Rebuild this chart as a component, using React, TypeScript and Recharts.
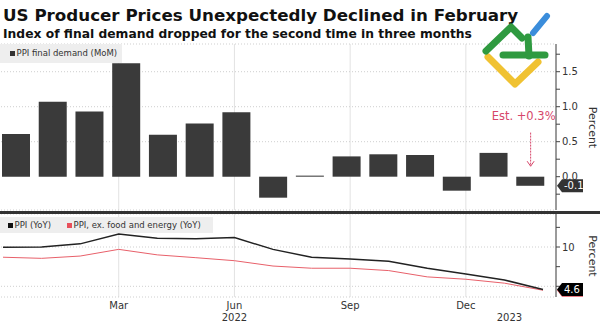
import React from 'react';
import { BarChart, Bar, XAxis, YAxis, CartesianGrid, ReferenceLine, ReferenceDot, LineChart, Line } from 'recharts';

const months = ['Dec 21', 'Jan 22', 'Feb 22', 'Mar 22', 'Apr 22', 'May 22', 'Jun 22', 'Jul 22', 'Aug 22', 'Sep 22', 'Oct 22', 'Nov 22', 'Dec 22', 'Jan 23', 'Feb 23'];
const momValues = [0.61, 1.07, 0.93, 1.62, 0.6, 0.76, 0.92, -0.3, 0.015, 0.29, 0.32, 0.31, -0.2, 0.34, -0.13];
const ppiYoY = [9.96, 10.0, 10.4, 11.65, 11.1, 11.05, 11.2, 9.7, 8.7, 8.47, 8.2, 7.3, 6.57, 5.8, 4.6];
const coreYoY = [8.7, 8.56, 8.85, 9.7, 9.0, 8.64, 8.26, 7.58, 7.3, 7.3, 7.0, 6.2, 5.9, 5.4, 4.5];

const monthTicks = [3, 6, 9, 12, 13];
const monthTickLabels = ['Mar', 'Jun', 'Sep', 'Dec', ''];
const yearTickLabels = ['', '2022', '', '', '2023'];
const gridMonths = [3, 6, 9, 12];
const momTicks = [-0.25, 0, 0.25, 0.5, 0.75, 1, 1.25, 1.5, 1.75];
const momLabelled = [0, 0.5, 1, 1.5];
const momGrid = [0.5, 1, 1.5];
const yoyTicks = [5, 7.5, 10, 12.5];
const yoyLabelled = [10];
const yoyGrid = [5, 10];
const estimateText = 'Est. +0.3%';
const estimateArrowTop = 0.63;
const estimateArrowTip = 0.15;
const estimateTextLevel = 0.87;

const momDomain: [number, number] = [-0.476, 1.896];
const yoyDomain: [number, number] = [3.64, 14.2];

const FONT = '"DejaVu Sans", Verdana, sans-serif';
const barData = months.map((m, i) => ({ m, i, v: momValues[i] }));
const lineData = months.map((m, i) => ({ m, i, ppi: ppiYoY[i], core: coreYoY[i] }));

const lastMom = momValues[momValues.length - 1];
const lastPpi = ppiYoY[ppiYoY.length - 1];
const lastCore = coreYoY[coreYoY.length - 1];

const Tag = ({ x, y, text, fill }: { x: number; y: number; text: string; fill: string }) => (
  <g>
    <polygon points={`${x + 1},${y} ${x + 6},${y - 6.5} ${x + 27},${y - 6.5} ${x + 27},${y + 6.5} ${x + 6},${y + 6.5}`} fill={fill} />
    <text x={x + 8} y={y + 3.6} fill="#fff" fontSize={10} fontFamily={FONT}>{text}</text>
  </g>
);

const makeYTick = (labelled: number[], tags: { v: number; text: string; fill: string }[], intLabels: boolean) => (props: any) => {
  const { x, y, payload } = props;
  const v = payload.value;
  const tag = tags.find((t) => t.v === v);
  if (tag) return <Tag x={x} y={y} text={tag.text} fill={tag.fill} />;
  const isLab = labelled.some((l) => Math.abs(l - v) < 1e-9);
  return (
    <g>
      <line x1={x} x2={x + 4} y1={y} y2={y} stroke="#444" strokeWidth={1} />
      {isLab && (
        <text x={x + 6} y={y + 3.6} fill="#333" fontSize={10} fontFamily={FONT}>
          {intLabels ? String(v) : v.toFixed(1)}
        </text>
      )}
    </g>
  );
};

const MonthTick = (props: any) => {
  const { x, y, payload } = props;
  const idx = monthTicks.indexOf(payload.value);
  return (
    <g>
      <text x={x} y={y + 12} textAnchor="middle" fill="#333" fontSize={10} fontFamily={FONT}>{monthTickLabels[idx]}</text>
      <text x={x + (idx === 4 ? 5 : 0)} y={y + 24} textAnchor="middle" fill="#333" fontSize={10} fontFamily={FONT}>{yearTickLabels[idx]}</text>
    </g>
  );
};

const legendText: React.CSSProperties = { fontFamily: FONT, fontSize: 8.5, color: '#333', whiteSpace: 'nowrap' };

export default function App() {
  const gridStroke = '#e2e2e2';
  const dotStroke = '#cfcfcf';
  const est = '#d6466a';
  return (
    <div style={{ position: 'absolute', left: 0, top: 0, width: 600, height: 323, background: '#fff', overflow: 'hidden' }}>
      <svg style={{ position: 'absolute', left: 0, top: 0 }} width={600} height={45}>
        <text x={3} y={21} fontFamily={FONT} fontWeight="bold" fontSize={16.7} fill="#111">
          US Producer Prices Unexpectedly Declined in February
        </text>
        <text x={3} y={37.5} fontFamily={FONT} fontWeight="bold" fontSize={12.3} fill="#111">
          Index of final demand dropped for the second time in three months
        </text>
      </svg>

      <div style={{ position: 'absolute', left: -2, top: 0 }}>
        <BarChart width={602} height={214} data={barData} margin={{ top: 44, right: 0, bottom: 4, left: 0 }} barSize={28}>
          <XAxis dataKey="m" type="category" hide padding={{ left: 0, right: 7 }} />
          <XAxis xAxisId="t" dataKey="i" type="number" domain={[0, 14]} ticks={gridMonths} hide padding={{ left: 5, right: 13 }} />
          <YAxis yAxisId="g" hide domain={momDomain} allowDataOverflow ticks={momGrid} />
          <YAxis
            orientation="right"
            width={44}
            domain={momDomain}
            allowDataOverflow
            ticks={[...momTicks, lastMom]}
            interval={0}
            tickSize={0}
            tickMargin={0}
            tickLine={false}
            axisLine={{ stroke: '#444' }}
            tick={makeYTick(momLabelled, [{ v: lastMom, text: lastMom.toFixed(1), fill: '#333' }], false)}
          />
          <CartesianGrid xAxisId="t" yAxisId="g" horizontal={false} stroke={gridStroke} />
          <CartesianGrid xAxisId="t" yAxisId="g" vertical={false} stroke={dotStroke} strokeDasharray="1 2" />
          <Bar dataKey="v" fill="#3a3a3a" isAnimationActive={false} />
          <ReferenceLine
            segment={[{ x: months[14], y: estimateArrowTop }, { x: months[14], y: estimateArrowTip }]}
            stroke={est}
            strokeWidth={1}
            strokeDasharray="2 1"
          />
          <ReferenceDot
            x={months[14]}
            y={estimateArrowTip}
            r={0}
            shape={(p: any) => (
              <polyline points={`${p.cx - 3.5},${p.cy - 5} ${p.cx},${p.cy} ${p.cx + 3.5},${p.cy - 5}`} fill="none" stroke={est} strokeWidth={1} />
            )}
          />
          <ReferenceDot
            x={months[14]}
            y={estimateTextLevel}
            r={0}
            shape={(p: any) => (
              <text x={p.cx - 7} y={p.cy + 4} textAnchor="middle" fill={est} fontSize={11.5} fontFamily={FONT}>{estimateText}</text>
            )}
          />
        </BarChart>
      </div>

      <div style={{ position: 'absolute', left: -2, top: 214 }}>
        <LineChart width={602} height={109} data={lineData} margin={{ top: 0, right: 0, bottom: 0, left: 0 }}>
          <XAxis
            dataKey="i"
            type="number"
            domain={[0, 14]}
            padding={{ left: 5, right: 13 }}
            ticks={monthTicks}
            interval={0}
            tick={<MonthTick />}
            tickLine={false}
            tickSize={0}
            tickMargin={0}
            axisLine={false}
            height={26}
          />
          <XAxis xAxisId="t" dataKey="i" type="number" domain={[0, 14]} ticks={gridMonths} hide padding={{ left: 5, right: 13 }} />
          <YAxis yAxisId="g" hide domain={yoyDomain} allowDataOverflow ticks={yoyGrid} />
          <YAxis
            orientation="right"
            width={44}
            domain={yoyDomain}
            allowDataOverflow
            ticks={[...yoyTicks, lastCore, lastPpi]}
            interval={0}
            tickSize={0}
            tickMargin={0}
            tickLine={false}
            axisLine={{ stroke: '#444' }}
            tick={makeYTick(yoyLabelled, [
              { v: lastCore, text: lastCore.toFixed(1), fill: '#e8505b' },
              { v: lastPpi, text: lastPpi.toFixed(1), fill: '#000' },
            ], true)}
          />
          <CartesianGrid xAxisId="t" yAxisId="g" horizontal={false} stroke={gridStroke} />
          <CartesianGrid xAxisId="t" yAxisId="g" vertical={false} stroke={dotStroke} strokeDasharray="1 2" />
          <Line dataKey="core" stroke="#e8606a" strokeWidth={1} dot={false} isAnimationActive={false} />
          <Line dataKey="ppi" stroke="#222" strokeWidth={1.5} dot={false} isAnimationActive={false} />
        </LineChart>
      </div>

      <div style={{ position: 'absolute', left: 0, top: 211, width: 600, height: 3, background: '#333' }} />

      <div style={{ position: 'absolute', left: 0, top: 44, width: 122, height: 19, background: '#eeeeee' }}>
        <div style={{ position: 'absolute', left: 10, top: 7, width: 5, height: 5, background: '#333' }} />
        <div style={{ ...legendText, position: 'absolute', left: 16.5, top: 4, lineHeight: '11px' }}>PPI final demand (MoM)</div>
      </div>

      <div style={{ position: 'absolute', left: 0, top: 217, width: 213, height: 16, background: '#eeeeee' }}>
        <div style={{ position: 'absolute', left: 8, top: 5.5, width: 5, height: 5, background: '#111' }} />
        <div style={{ ...legendText, position: 'absolute', left: 14.5, top: 2.5, lineHeight: '11px' }}>PPI (YoY)</div>
        <div style={{ position: 'absolute', left: 67, top: 5.5, width: 5, height: 5, background: '#e8505b' }} />
        <div style={{ ...legendText, position: 'absolute', left: 73.5, top: 2.5, lineHeight: '11px' }}>PPI, ex. food and energy (YoY)</div>
      </div>

      <svg style={{ position: 'absolute', left: 0, top: 0 }} width={600} height={323}>
        <text x={592} y={127.5} transform="rotate(90 592 127.5)" textAnchor="middle" dominantBaseline="central" fill="#333" fontSize={11} fontFamily={FONT}>Percent</text>
        <text x={592} y={256} transform="rotate(90 592 256)" textAnchor="middle" dominantBaseline="central" fill="#333" fontSize={11} fontFamily={FONT}>Percent</text>
        <polyline points="488,57 515,84 538,62" stroke="#f0c232" strokeWidth={7} fill="none" strokeLinecap="round" strokeLinejoin="round" />
        <polyline points="486,51 511,27 522,38" stroke="#2f9a40" strokeWidth={7} fill="none" strokeLinecap="round" strokeLinejoin="round" />
        <line x1={503} y1={55} x2={545} y2={55} stroke="#2f9a40" strokeWidth={7} strokeLinecap="round" />
        <line x1={528} y1={37} x2={529} y2={56} stroke="#2f9a40" strokeWidth={7} strokeLinecap="round" />
        <line x1={533} y1={33} x2={547} y2={16} stroke="#3b8ddb" strokeWidth={6} strokeLinecap="round" />
      </svg>
    </div>
  );
}
